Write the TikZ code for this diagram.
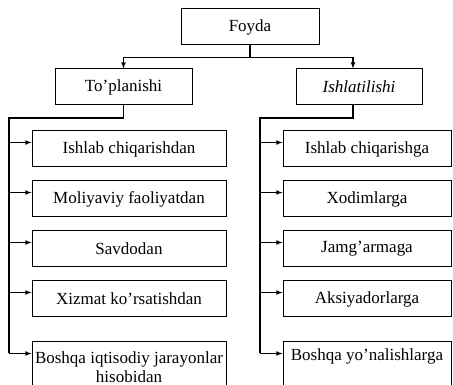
\documentclass[tikz,border=0pt]{standalone}
\usepackage{fontspec}
\setmainfont{Liberation Serif}
\usetikzlibrary{positioning}

\tikzset{
  box/.style={draw,line width=1pt,minimum height=36pt,inner sep=1.5pt,align=center,
    font=\fontsize{17}{19}\selectfont},
  lbox/.style={box,minimum width=194pt},
  rbox/.style={box,minimum width=168pt},
  conn/.style={line width=1.1pt},
  arr/.style={conn,-latex},
}

\begin{document}
\begin{tikzpicture}[x=1pt,y=1pt,node distance=13pt]
\useasboundingbox (0,0) rectangle (453,385);
% top
\node[box,minimum width=138pt] (foyda) at (250,358) {Foyda};
\node[box,minimum width=137pt] (topl) at (123.5,298) {To’planishi};
\node[box,minimum width=126pt] (ishl) at (359,298) {\textit{Ishlatilishi}};
\draw[arr] (foyda.south) -- ++(0,-12) -| (topl.north);
\draw[arr] (foyda.south) -- ++(0,-12) -| ([xshift=-6pt]ishl.north);
% left column
\node[lbox] (l1) at (129,236) {Ishlab chiqarishdan};
\node[lbox,below=of l1] (l2) {Moliyaviy faoliyatdan};
\node[lbox,below=of l2] (l3) {Savdodan};
\node[lbox,below=of l3] (l4) {Xizmat ko’rsatishdan};
\node[lbox,below=24pt of l4,minimum height=50pt] (l5) {Boshqa iqtisodiy jarayonlar\\hisobidan};
% right column
\node[rbox] (r1) at (367,236) {Ishlab chiqarishga};
\node[rbox,below=of r1] (r2) {Xodimlarga};
\node[rbox,below=of r2] (r3) {Jamg’armaga};
\node[rbox,below=of r3] (r4) {Aksiyadorlarga};
\node[rbox,below=24pt of r4,minimum height=50pt] (r5) {Boshqa yo’nalishlarga\\\strut};
% trunks
\coordinate (ltrunk) at (9,267);
\coordinate (rtrunk) at (260,267);
\draw[conn] (topl.south) |- (ltrunk) -- ([yshift=-12pt]l5.north west -| ltrunk);
\draw[conn] ([xshift=-6pt]ishl.south) |- (rtrunk) -- ([yshift=-12pt]r5.north west -| rtrunk);
\foreach \i in {1,...,5} {
  \draw[arr] ([yshift=-12pt]l\i.north west -| ltrunk) -- ([yshift=-12pt]l\i.north west);
  \draw[arr] ([yshift=-12pt]r\i.north west -| rtrunk) -- ([yshift=-12pt]r\i.north west);
}
\end{tikzpicture}
\end{document}
